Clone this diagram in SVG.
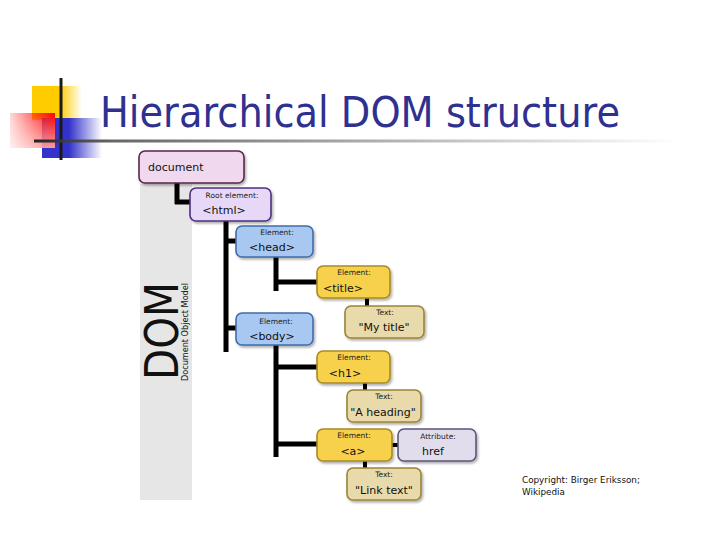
<svg xmlns="http://www.w3.org/2000/svg" width="720" height="540" viewBox="0 0 720 540">
<defs>
  <linearGradient id="gy" x1="0" x2="1" y1="0" y2="0"><stop offset="0" stop-color="#FFCC00"/><stop offset="0.55" stop-color="#FFCC00"/><stop offset="1" stop-color="#FFCC00" stop-opacity="0"/></linearGradient>
  <linearGradient id="gb" x1="0" x2="1" y1="0" y2="0"><stop offset="0" stop-color="#3333CC"/><stop offset="0.45" stop-color="#3333CC"/><stop offset="1" stop-color="#3333CC" stop-opacity="0"/></linearGradient>
  <linearGradient id="gr" x1="0" x2="1" y1="0" y2="0"><stop offset="0" stop-color="#FF0000" stop-opacity="0.15"/><stop offset="1" stop-color="#FF0000"/></linearGradient>
  <linearGradient id="gr2" x1="0" x2="0" y1="0" y2="1"><stop offset="0" stop-color="#fff" stop-opacity="0"/><stop offset="1" stop-color="#fff" stop-opacity="0.6"/></linearGradient>
  <linearGradient id="gl" x1="0" x2="1" y1="0" y2="0"><stop offset="0" stop-color="#222"/><stop offset="0.12" stop-color="#666"/><stop offset="0.6" stop-color="#bbb"/><stop offset="1" stop-color="#fff"/></linearGradient>
  <filter id="sh" x="-10%" y="-10%" width="130%" height="140%"><feDropShadow dx="1.5" dy="2" stdDeviation="1.2" flood-color="#000" flood-opacity="0.3"/></filter>
</defs>
<style>
  .node rect{stroke-width:1.6;filter:url(#sh)}
  .pink{fill:#F0D8EE;stroke:#5A2548}
  .lav{fill:#E8D8F8;stroke:#4E3080}
  .blue{fill:#A8C8F2;stroke:#3F6DAA}
  .yel{fill:#F7D14C;stroke:#A88A24}
  .tan{fill:#E8DAAA;stroke:#9A8438}
  .attr{fill:#E2DDEC;stroke:#5E5478}
  .lbl{font-family:"DejaVu Sans",sans-serif;font-size:7.5px;fill:#222;text-anchor:middle}
  .val{font-family:"DejaVu Sans",sans-serif;font-size:11px;fill:#111;text-anchor:middle}
  .conn line{stroke:#000;stroke-width:5}
  .conn line.thin{stroke-width:4}
</style>
<rect width="720" height="540" fill="#fff"/>
<g id="logo">
  <rect x="32" y="86" width="50" height="34" fill="url(#gy)"/>
  <rect x="42" y="118" width="60" height="40" fill="url(#gb)"/>
  <rect x="10" y="113" width="45" height="35" fill="url(#gr)"/>
  <rect x="10" y="113" width="45" height="35" fill="url(#gr2)"/>
  <line x1="61" y1="78" x2="61" y2="160" stroke="#1a1a1a" stroke-width="3"/>
</g>
<rect x="34" y="139.5" width="646" height="3" fill="url(#gl)"/>
<text x="100" y="127" font-family="DejaVu Sans, sans-serif" font-size="42" fill="#2E3190" textLength="520" lengthAdjust="spacingAndGlyphs">Hierarchical DOM structure</text>
<g id="dom-panel">
  <rect x="140" y="184" width="52" height="316" fill="#E6E6E6"/>
  <text transform="translate(178,380) rotate(-90)" font-family="DejaVu Sans, sans-serif" font-size="46" fill="#111" textLength="98" lengthAdjust="spacingAndGlyphs">DOM</text>
  <text transform="translate(188,381) rotate(-90)" font-family="DejaVu Sans, sans-serif" font-size="8.5" fill="#111" textLength="98" lengthAdjust="spacingAndGlyphs">Document Object Model</text>
</g>
<g class="conn" id="connectors">
  <line x1="177" y1="183" x2="177" y2="204"/>
  <line x1="175" y1="202" x2="191" y2="202"/>
  <line x1="226" y1="221" x2="226" y2="352"/>
  <line x1="224" y1="241" x2="237" y2="241"/>
  <line x1="224" y1="328" x2="237" y2="328"/>
  <line x1="276" y1="257" x2="276" y2="291"/>
  <line x1="274" y1="282" x2="318" y2="282"/>
  <line x1="276" y1="345" x2="276" y2="457"/>
  <line x1="274" y1="367" x2="318" y2="367"/>
  <line x1="274" y1="444" x2="318" y2="444"/>
  <line class="thin" x1="367" y1="298" x2="367" y2="307"/>
  <line class="thin" x1="365" y1="383" x2="365" y2="391"/>
  <line class="thin" x1="365" y1="461" x2="365" y2="469"/>
  <line class="thin" x1="391" y1="445" x2="399" y2="445"/>
</g>
<g class="node" id="n-document">
  <rect class="pink" x="139" y="151" width="105" height="32" rx="6"/>
  <text x="148" y="171" font-family="DejaVu Sans, sans-serif" font-size="11" fill="#111">document</text>
</g>
<g class="node" id="n-html">
  <rect class="lav" x="190" y="188" width="81" height="33" rx="6"/>
  <text class="lbl" x="232" y="198">Root element:</text>
  <text class="val" x="224" y="214">&lt;html&gt;</text>
</g>
<g class="node" id="n-head">
  <rect class="blue" x="236" y="226" width="77" height="31" rx="6"/>
  <text class="lbl" x="277" y="235">Element:</text>
  <text class="val" x="272" y="251">&lt;head&gt;</text>
</g>
<g class="node" id="n-title">
  <rect class="yel" x="317" y="266" width="73" height="32" rx="6"/>
  <text class="lbl" x="354" y="275">Element:</text>
  <text class="val" x="343" y="292">&lt;title&gt;</text>
</g>
<g class="node" id="n-mytitle">
  <rect class="tan" x="345" y="306" width="79" height="32" rx="6"/>
  <text class="lbl" x="385" y="315">Text:</text>
  <text class="val" x="384" y="331">"My title"</text>
</g>
<g class="node" id="n-body">
  <rect class="blue" x="236" y="313" width="77" height="32" rx="6"/>
  <text class="lbl" x="276" y="324">Element:</text>
  <text class="val" x="272" y="340">&lt;body&gt;</text>
</g>
<g class="node" id="n-h1">
  <rect class="yel" x="317" y="351" width="73" height="32" rx="6"/>
  <text class="lbl" x="354" y="360">Element:</text>
  <text class="val" x="345" y="377">&lt;h1&gt;</text>
</g>
<g class="node" id="n-aheading">
  <rect class="tan" x="347" y="390" width="74" height="32" rx="6"/>
  <text class="lbl" x="384" y="399">Text:</text>
  <text class="val" x="383" y="416">"A heading"</text>
</g>
<g class="node" id="n-a">
  <rect class="yel" x="317" y="429" width="75" height="32" rx="6"/>
  <text class="lbl" x="354" y="438">Element:</text>
  <text class="val" x="353" y="455">&lt;a&gt;</text>
</g>
<g class="node" id="n-href">
  <rect class="attr" x="398" y="429" width="78" height="32" rx="6"/>
  <text class="lbl" x="438" y="439">Attribute:</text>
  <text class="val" x="433" y="455">href</text>
</g>
<g class="node" id="n-linktext">
  <rect class="tan" x="347" y="468" width="74" height="32" rx="6"/>
  <text class="lbl" x="384" y="477">Text:</text>
  <text class="val" x="384" y="494">"Link text"</text>
</g>
<g id="credit" font-family="DejaVu Sans, sans-serif" font-size="8.8" fill="#111">
  <text x="522" y="483">Copyright: Birger Eriksson;</text>
  <text x="522" y="495">Wikipedia</text>
</g>
</svg>
